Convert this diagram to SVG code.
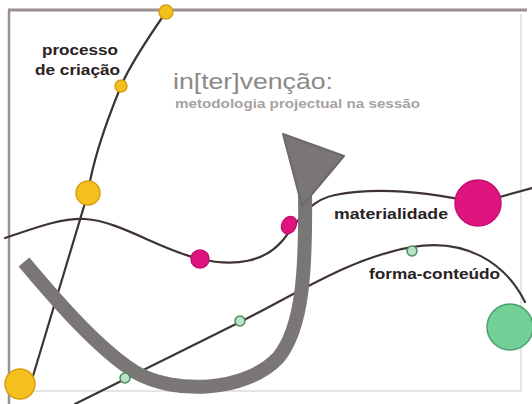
<svg xmlns="http://www.w3.org/2000/svg" width="532" height="404" viewBox="0 0 532 404">
<style>
.ln{fill:none;stroke:#3e3434;stroke-width:2.2;stroke-linecap:round}
.y{fill:#f4c01e;stroke:#d9a012;stroke-width:1.5}
.m{fill:#e0147e;stroke:#c21070;stroke-width:1.5}
.g{fill:#72cf95;stroke:#4f9e6e;stroke-width:1.5}
.gs{fill:#b9e3c6;stroke:#4e8a62;stroke-width:1.5}
.lbl{font-family:"Liberation Sans",Arial,sans-serif;font-weight:bold;font-size:14px;fill:#2a2222}
</style>
<rect width="532" height="404" fill="#ffffff"/>
<g id="frame">
<line x1="8" y1="10" x2="527" y2="10" stroke="#9a9090" stroke-width="3"/>
<line x1="9" y1="10" x2="9" y2="404" stroke="#9a9090" stroke-width="2.5"/>
<line x1="9" y1="391" x2="521" y2="391" stroke="#dcdcdc" stroke-width="1.5"/>
<line x1="521" y1="14" x2="521" y2="391" stroke="#dcdcdc" stroke-width="1.5"/>
</g>
<g id="connectors">
<path class="ln" d="M166,12 C150,35 130,65 121,86 C105,125 92,165 88,193 L30,386"/>
<path class="ln" d="M5,238 C35,228 60,218 85,219 C120,221 160,250 200,259 C235,267 265,262 283,240 C300,218 310,200 335,195 C370,188 420,190 478,203 L532,188"/>
<path class="ln" d="M75,404 L240,322 C300,292 350,258 412,247 C465,238 505,262 525,302"/>
</g>
<g id="arrow">
<path d="M24,262 C60,305 100,350 135,372 C175,395 245,392 278,358 C303,328 306,270 305,190" fill="none" stroke="#7b7676" stroke-width="14"/>
<polygon points="283,134 344,156 302,206" fill="#7b7676" stroke="#6e6868" stroke-width="2" stroke-linejoin="round"/>
</g>
<g id="title">
<text x="173" y="89" font-family="Liberation Sans, Arial, sans-serif" font-size="22" fill="#8c8888" textLength="160" lengthAdjust="spacingAndGlyphs">in[ter]venção:</text>
<text x="175" y="108" font-family="Liberation Sans, Arial, sans-serif" font-size="12.5" font-weight="bold" fill="#a8a2a2" textLength="245" lengthAdjust="spacingAndGlyphs">metodologia projectual na sessão</text>
</g>
<g id="processo">
<circle class="y" cx="166" cy="12" r="7"/>
<circle class="y" cx="121" cy="86" r="6"/>
<circle class="y" cx="88" cy="193" r="12"/>
<circle class="y" cx="20" cy="384" r="15"/>
<text class="lbl" x="42" y="55" textLength="76" lengthAdjust="spacingAndGlyphs">processo</text>
<text class="lbl" x="35" y="75" textLength="85" lengthAdjust="spacingAndGlyphs">de criação</text>
</g>
<g id="materialidade">
<circle class="m" cx="200" cy="259" r="9"/>
<ellipse class="m" cx="289" cy="225" rx="7" ry="9" transform="rotate(30 289 225)"/>
<circle class="m" cx="478" cy="203" r="23"/>
<text class="lbl" x="334" y="219" textLength="114" lengthAdjust="spacingAndGlyphs">materialidade</text>
</g>
<g id="forma-conteudo">
<circle class="gs" cx="125" cy="378" r="5"/>
<circle class="gs" cx="240" cy="321" r="5"/>
<circle class="gs" cx="412" cy="251" r="5"/>
<circle class="g" cx="510" cy="327" r="23"/>
<text class="lbl" x="369" y="279" textLength="131" lengthAdjust="spacingAndGlyphs">forma-conteúdo</text>
</g>
</svg>
